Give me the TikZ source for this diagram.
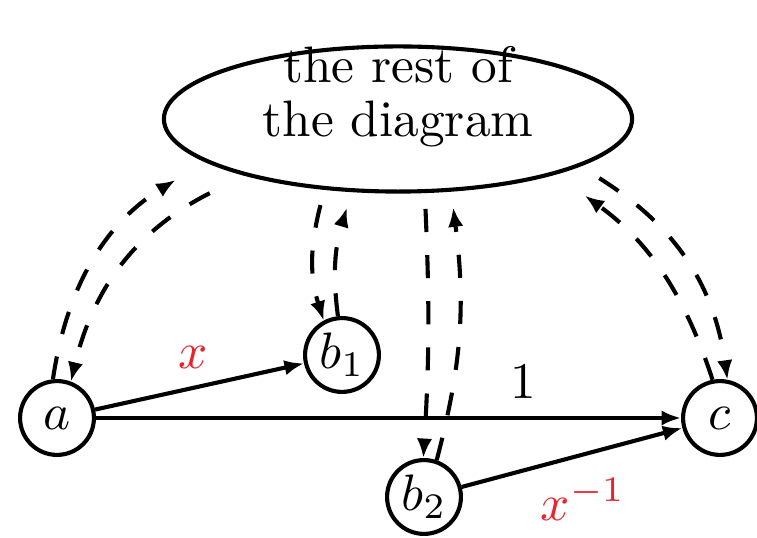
\documentclass[tikz,border=0pt]{standalone}
\usepackage{amsmath}
\usetikzlibrary{arrows.meta, shapes.geometric}
\definecolor{lblred}{HTML}{E8232B}

\begin{document}
\begin{tikzpicture}[
  x=0.195pt, y=-0.195pt,
  vert/.style={circle, draw, thick, minimum size=14.4pt, inner sep=0pt},
  blob/.style={ellipse, draw, thick, minimum width=91.3pt, minimum height=28.3pt, inner sep=0pt, outer sep=3.5pt, align=center, text height=13.5pt, text depth=6.5pt},
  arr/.style={-{Latex[length=3.8pt, width=3pt]}, thick},
  darr/.style={arr, dash pattern=on 4.5pt off 4.5pt},
  lbl/.style={text=lblred},
]
  \useasboundingbox (0,0) rectangle (757,538);

  \node[blob] (rest) at (398,119) {the rest of\\[-1.4pt]the diagram};
  \node[vert] (a) at (57,418) {$a$};
  \node[vert] (b1) at (342,355) {$b_1$};
  \node[vert] (b2) at (424,497) {$b_2$};
  \node[vert] (c) at (720,418) {$c$};

  % solid edges
  \draw[arr] (a) -- node[lbl, above, pos=0.47] {$x$} (b1);
  \draw[arr] (a) -- node[above, pos=0.73] {$1$} (c);
  \draw[arr] (b2) -- node[lbl, below, pos=0.55, yshift=-1pt] {$x^{-1}$} (c);

  % dashed edges to and from the rest
  \draw[darr, shorten >=3.5pt] (a.96) to[bend left=25] (rest.194);
  \draw[darr, shorten <=3.5pt] (rest.201) to[bend right=25] (a.69);
  \draw[darr] (rest.228) to[bend right=16] (b1.118);
  \draw[darr] (b1.96) to[bend left=12] (rest.240);
  \draw[darr] (rest.287) to[bend left=3] (b2.91);
  \draw[darr] (b2.71) to[bend right=11] (rest.302);
  \draw[darr, shorten >=3.5pt] (c.101) to[bend right=18] (rest.339);
  \draw[darr, shorten <=1pt] (rest.344) to[bend left=25] (c.79);
\end{tikzpicture}
\end{document}
